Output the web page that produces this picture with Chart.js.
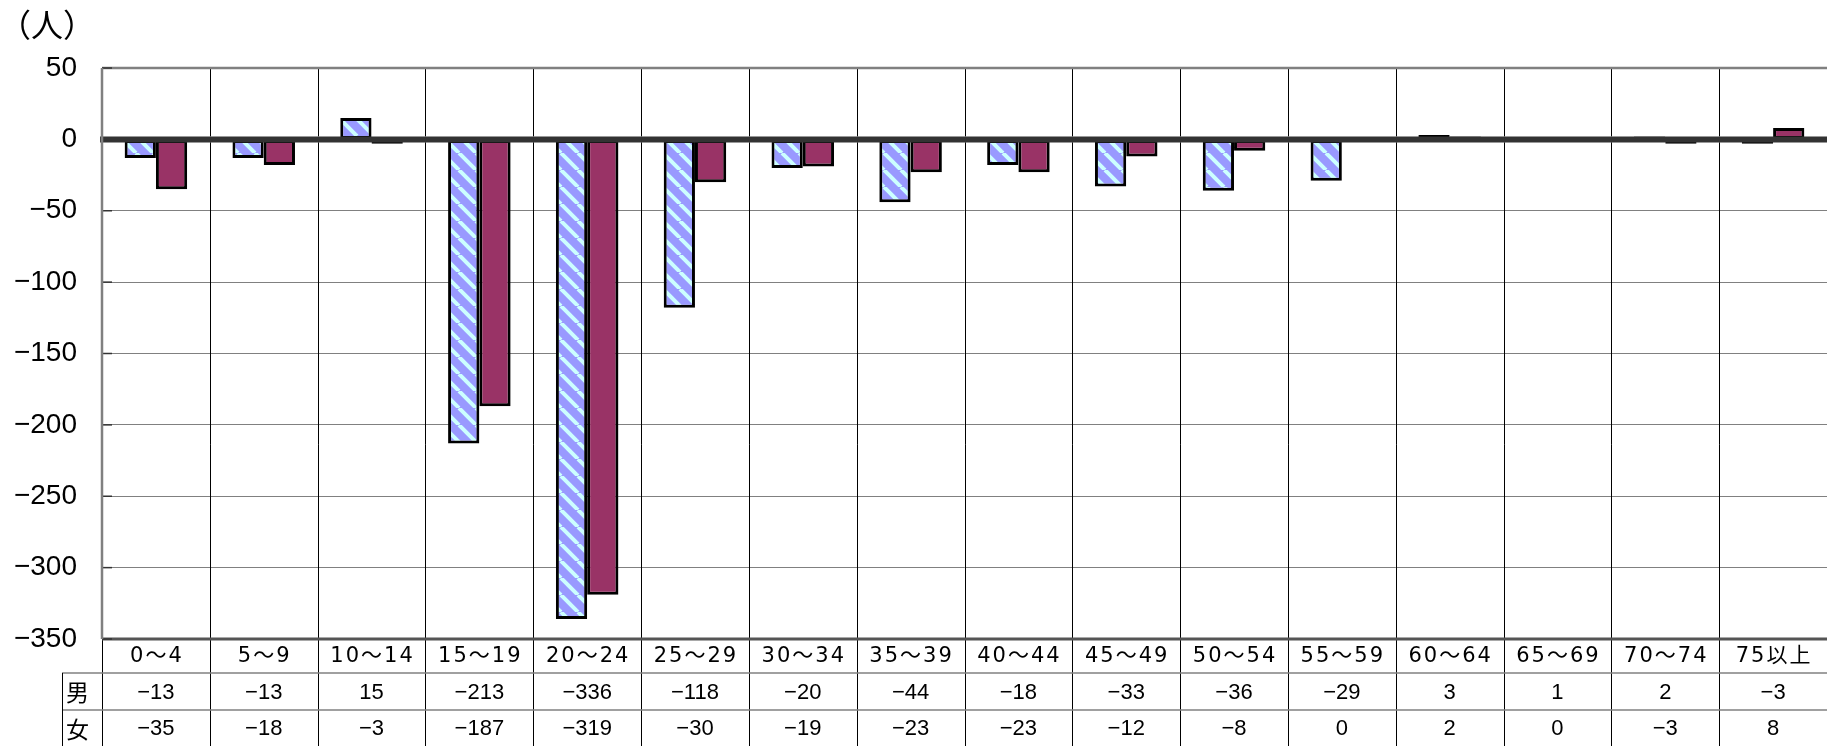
<!DOCTYPE html>
<html><head><meta charset="utf-8">
<style>html,body{margin:0;padding:0;background:#fff}#wrap{width:1827px;height:746px;position:relative}</style>
<script src="https://cdn.jsdelivr.net/npm/chart.js@4.4.1/dist/chart.umd.min.js"></script>
</head><body><div id="wrap"><canvas id="c"></canvas></div>
<script>
const categories = ['0～4','5～9','10～14','15～19','20～24','25～29','30～34','35～39','40～44','45～49','50～54','55～59','60～64','65～69','70～74','75以上'];
const maleValues = [-13,-13,15,-213,-336,-118,-20,-44,-18,-33,-36,-29,3,1,2,-3];
const femaleValues = [-35,-18,-3,-187,-319,-30,-19,-23,-23,-12,-8,0,2,0,-3,8];
const seriesNames = ['男','女'];
const yMin = -350, yMax = 50, yStep = 50;
const unitLabel = '（人）';

function stripePattern(){
  const s = 17;
  const c = document.createElement('canvas'); c.width = c.height = s;
  const g = c.getContext('2d');
  g.fillStyle = '#9999ff'; g.fillRect(0,0,s,s);
  g.strokeStyle = '#ccffff'; g.lineWidth = 4;
  for (const o of [-s,0,s]) { g.beginPath(); g.moveTo(o,0); g.lineTo(o+s,s); g.stroke(); }
  return g.createPattern(c,'repeat');
}
const fmt = v => v < 0 ? '−' + Math.abs(v) : String(v);

const tablePlugin = {
  id: 'tablePlugin',
  afterDatasetsDraw(chart){
    const ctx = chart.ctx, y = chart.scales.y, a = chart.chartArea;
    ctx.save();
    const y0 = y.getPixelForValue(0);
    ctx.strokeStyle = '#333333'; ctx.lineWidth = 6;
    ctx.beginPath(); ctx.moveTo(a.left - 2, y0); ctx.lineTo(a.right, y0); ctx.stroke();
    ctx.restore();
  },
  afterDraw(chart){
    const ctx = chart.ctx, x = chart.scales.x, y = chart.scales.y, a = chart.chartArea;
    const n = categories.length, cw = x.width / n;
    const H = chart.height;
    const row1 = a.bottom + 34, row2 = a.bottom + 71;
    const tableLeft = 62;
    const y0 = y.getPixelForValue(0);
    ctx.save();
    ctx.strokeStyle = '#000'; ctx.lineWidth = 1;
    for (let i = 1; i < n; i++) {
      const xx = Math.round(x.getPixelForValue(i) - cw / 2) + 0.5;
      ctx.beginPath(); ctx.moveTo(xx, a.top); ctx.lineTo(xx, y0 - 3); ctx.stroke();
      ctx.beginPath(); ctx.moveTo(xx, y0 + 3); ctx.lineTo(xx, H); ctx.stroke();
    }
    ctx.beginPath(); ctx.moveTo(a.left + 0.5, a.bottom); ctx.lineTo(a.left + 0.5, H); ctx.stroke();
    ctx.strokeStyle = '#808080'; ctx.lineWidth = 1.5;
    ctx.beginPath(); ctx.moveTo(tableLeft, row1); ctx.lineTo(a.right, row1); ctx.stroke();
    ctx.beginPath(); ctx.moveTo(tableLeft, row2); ctx.lineTo(a.right, row2); ctx.stroke();
    ctx.strokeStyle = '#000'; ctx.lineWidth = 1;
    ctx.beginPath(); ctx.moveTo(tableLeft + 0.5, row1); ctx.lineTo(tableLeft + 0.5, H); ctx.stroke();
    ctx.strokeStyle = '#808080'; ctx.lineWidth = 2.5;
    ctx.beginPath(); ctx.moveTo(a.left, a.top); ctx.lineTo(a.right, a.top); ctx.stroke();
    ctx.strokeStyle = '#555'; ctx.lineWidth = 3;
    ctx.beginPath(); ctx.moveTo(a.left, a.bottom); ctx.lineTo(a.right, a.bottom); ctx.stroke();
    ctx.strokeStyle = '#333'; ctx.lineWidth = 1.5;
    for (let v = yMin; v <= yMax; v += yStep) {
      const yy = y.getPixelForValue(v);
      ctx.beginPath(); ctx.moveTo(a.left, yy); ctx.lineTo(a.left + 10, yy); ctx.stroke();
    }
    ctx.strokeStyle = '#808080'; ctx.lineWidth = 2.5;
    ctx.beginPath(); ctx.moveTo(a.left, a.top); ctx.lineTo(a.left, a.bottom); ctx.stroke();
    // category labels
    ctx.fillStyle = '#000'; ctx.textAlign = 'center'; ctx.textBaseline = 'middle';
    ctx.font = "21px 'DejaVu Sans', 'Noto Sans CJK JP', sans-serif";
    const ls = 2;
    try { ctx.letterSpacing = ls + 'px'; } catch(e) {}
    for (let i = 0; i < n; i++) ctx.fillText(categories[i], x.getPixelForValue(i) + ls / 2, (a.bottom + row1) / 2 + 1);
    try { ctx.letterSpacing = '0px'; } catch(e) {}
    // data rows
    ctx.font = "22px 'Liberation Sans', Arial, sans-serif";
    for (let i = 0; i < n; i++) {
      ctx.fillText(fmt(maleValues[i]), x.getPixelForValue(i), (row1 + row2) / 2 + 1);
      ctx.fillText(fmt(femaleValues[i]), x.getPixelForValue(i), (row2 + H) / 2 + 1);
    }
    ctx.textAlign = 'left';
    ctx.font = "23px 'Noto Sans CJK JP', sans-serif";
    ctx.fillText(seriesNames[0], 66, (row1 + row2) / 2 + 1);
    ctx.fillText(seriesNames[1], 66, (row2 + H) / 2 + 1);
    ctx.font = "32px 'Noto Sans CJK JP', sans-serif";
    ctx.fillText(unitLabel, -1, 25);
    ctx.restore();
  }
};

new Chart(document.getElementById('c'), {
  type: 'bar',
  data: {
    labels: categories,
    datasets: [
      { label: seriesNames[0], data: maleValues, backgroundColor: stripePattern(), borderColor: '#000', borderWidth: 3, borderSkipped: false },
      { label: seriesNames[1], data: femaleValues, backgroundColor: '#993366', borderColor: '#000', borderWidth: 3, borderSkipped: false }
    ]
  },
  options: {
    responsive: true, maintainAspectRatio: false, animation: false,
    devicePixelRatio: 1,
    layout: { padding: { top: 68, bottom: 107, left: 0, right: 0 } },
    datasets: { bar: { categoryPercentage: 0.58, barPercentage: 1.0 } },
    plugins: { legend: { display: false }, tooltip: { enabled: false }, title: { display: false } },
    scales: {
      x: {
        offset: true,
        grid: { display: false, drawTicks: false },
        border: { display: false },
        ticks: { display: false },
        afterFit: s => { s.height = 0; }
      },
      y: {
        min: yMin, max: yMax,
        ticks: {
          stepSize: yStep, padding: 25, color: '#000',
          font: { family: "'Liberation Sans', Arial, sans-serif", size: 28 },
          callback: v => fmt(v)
        },
        grid: {
          drawTicks: false, lineWidth: 1,
          color: c => (c.tick && (c.tick.value === 0 || c.tick.value === yMax)) ? 'rgba(0,0,0,0)' : '#808080'
        },
        border: { display: false },
        afterFit: s => { s.width = 102; }
      }
    }
  },
  plugins: [tablePlugin]
});
</script>
</body></html>
